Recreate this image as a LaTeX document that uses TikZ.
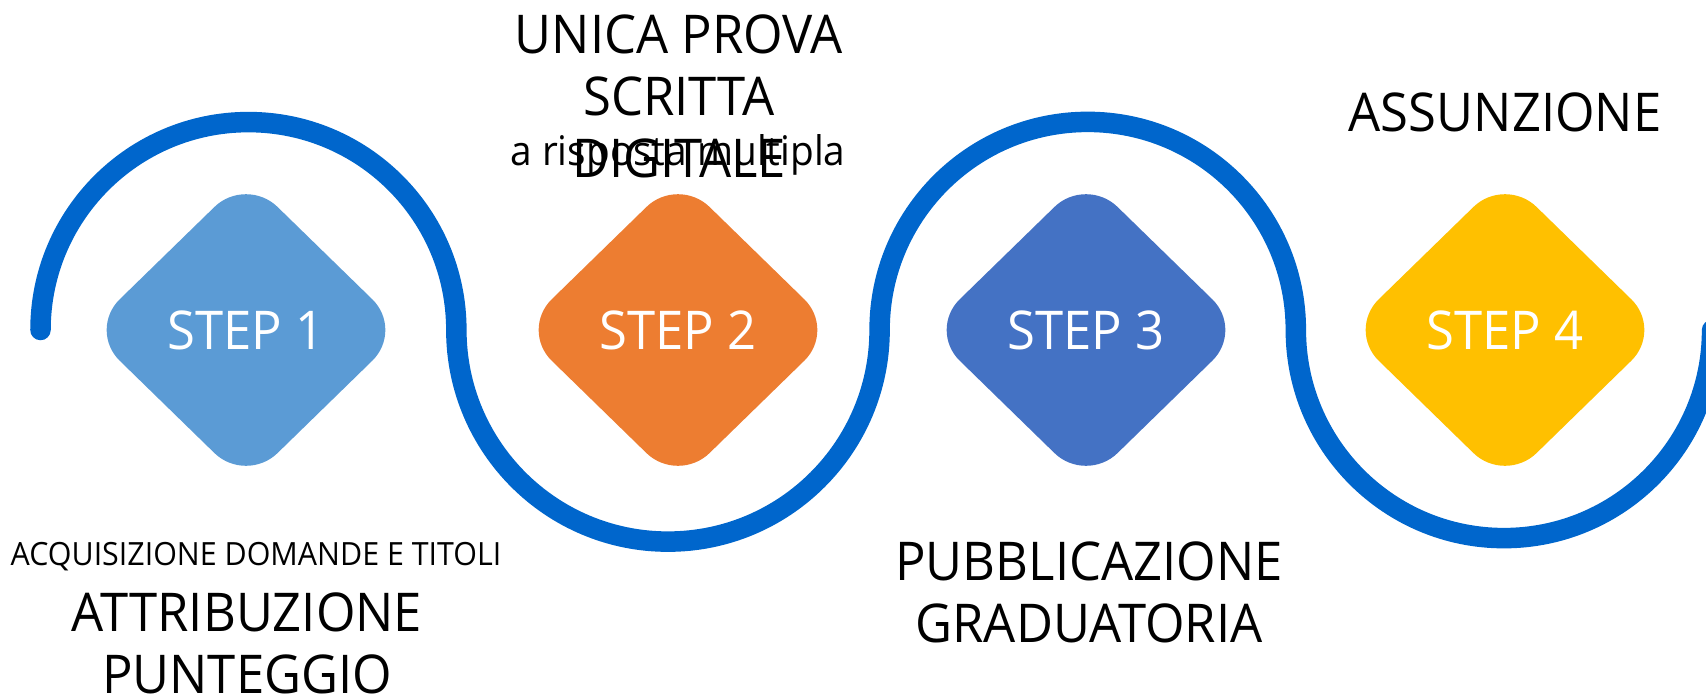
\documentclass[tikz,border=0pt]{standalone}
\usepackage{fontspec}
\setmainfont{Open Sans}[FakeStretch=0.95]
\usetikzlibrary{shapes.geometric}
\usetikzlibrary{positioning}
\definecolor{wave}{HTML}{0066CC}
\definecolor{stepone}{HTML}{5B9BD5}
\definecolor{steptwo}{HTML}{ED7D31}
\definecolor{stepthree}{HTML}{4472C4}
\definecolor{stepfour}{HTML}{FFC000}

\begin{document}
\begin{tikzpicture}[x=0.01cm,y=-0.01cm,
    stepbox/.style={diamond,rounded corners=0.44cm,minimum width=3.16cm,minimum height=3.08cm,inner sep=0pt,text=white,font=\fontsize{15.2}{18}\selectfont},
    big label/.style={align=center,anchor=base,inner sep=0pt,font=\fontsize{15.2}{17.6}\selectfont},
    small label/.style={anchor=base,inner sep=0pt}]
    \useasboundingbox (0,0) rectangle (1706,697);
    % wave
    \draw[wave,line width=0.205cm,line cap=round] (40.5,330)
      arc[start angle=180,end angle=0,radius=2.078cm]
      arc[start angle=180,end angle=360,radius=2.115cm]
      arc[start angle=180,end angle=0,radius=2.08cm]
      arc[start angle=180,end angle=360,radius=2.08cm];
    % steps
    \node[stepbox,fill=stepone] (s1) at (246,330) {STEP 1};
    \node[stepbox,fill=steptwo] (s2) at (678,330) {STEP 2};
    \node[stepbox,fill=stepthree] (s3) at (1086,330) {STEP 3};
    \node[stepbox,fill=stepfour] (s4) at (1505,330) {STEP 4};
    % labels (base = last line)
    \node[big label] (t2) at (679,177) {UNICA PROVA\\SCRITTA\\DIGITALE};
    \node[small label,font=\fontsize{11.6}{14}\selectfont] (t2b) at (678,165) {a risposta multipla};
    \node[big label] (t4) at (1505,131) {ASSUNZIONE};
    \node[small label,font=\fontsize{9.1}{11}\selectfont] (t1a) at (256,565) {ACQUISIZIONE DOMANDE E TITOLI};
    \node[big label] (t1) at (247,693) {ATTRIBUZIONE\\PUNTEGGIO};
    \node[big label] (t3) at (1089,642) {PUBBLICAZIONE\\GRADUATORIA};
\end{tikzpicture}
\end{document}
